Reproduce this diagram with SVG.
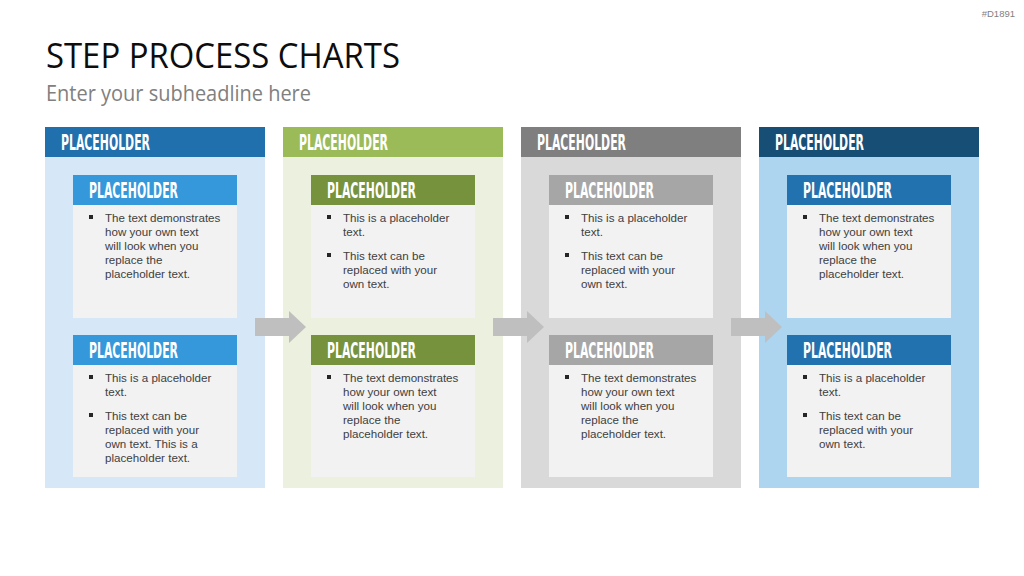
<svg xmlns="http://www.w3.org/2000/svg" width="1024" height="576" viewBox="0 0 1024 576">
<style>
.hd{font-family:"DejaVu Sans Condensed","DejaVu Sans",sans-serif;font-stretch:condensed;font-weight:bold;font-size:21px;fill:#fff}
.tx{font-family:"Liberation Sans",Arial,sans-serif;font-size:11.6px;fill:#404040}
.bl{fill:#262626}
.ib{fill:#F2F2F2}
.ar{fill:#BFBFBF}
</style>
<rect width="1024" height="576" fill="#fff"/>
<text x="1015" y="17" text-anchor="end" font-family="Liberation Sans,Arial,sans-serif" font-size="9.5" fill="#7F7F7F">#D1891</text>
<text x="46" y="68" font-family="Open Sans,Liberation Sans,sans-serif" font-size="34" fill="#0D0D0D" textLength="354" lengthAdjust="spacingAndGlyphs">STEP PROCESS CHARTS</text>
<text x="46" y="101" font-family="Open Sans,Liberation Sans,sans-serif" font-size="21" fill="#808080" textLength="265" lengthAdjust="spacingAndGlyphs">Enter your subheadline here</text>

<g id="col1">
<rect x="45" y="157" width="220" height="331" fill="#D6E8F7"/>
<rect x="45" y="127" width="220" height="30" fill="#1F70AD"/>
<text class="hd" x="61" y="149.5" textLength="89" lengthAdjust="spacingAndGlyphs">PLACEHOLDER</text>
<rect class="ib" x="73" y="205" width="164" height="113"/>
<rect x="73" y="175" width="164" height="30" fill="#3498DB"/>
<text class="hd" x="89" y="197.5" textLength="89" lengthAdjust="spacingAndGlyphs">PLACEHOLDER</text>
<rect class="bl" x="89" y="215" width="4" height="4"/>
<text class="tx" x="105" y="222">The text demonstrates</text>
<text class="tx" x="105" y="236">how your own text</text>
<text class="tx" x="105" y="250">will look when you</text>
<text class="tx" x="105" y="264">replace the</text>
<text class="tx" x="105" y="278">placeholder text.</text>
<rect class="ib" x="73" y="365" width="164" height="112"/>
<rect x="73" y="335" width="164" height="30" fill="#3498DB"/>
<text class="hd" x="89" y="357.5" textLength="89" lengthAdjust="spacingAndGlyphs">PLACEHOLDER</text>
<rect class="bl" x="89" y="375" width="4" height="4"/>
<text class="tx" x="105" y="382">This is a placeholder</text>
<text class="tx" x="105" y="396">text.</text>
<rect class="bl" x="89" y="413" width="4" height="4"/>
<text class="tx" x="105" y="420">This text can be</text>
<text class="tx" x="105" y="434">replaced with your</text>
<text class="tx" x="105" y="448">own text. This is a</text>
<text class="tx" x="105" y="462">placeholder text.</text>
</g>

<g id="col2">
<rect x="283" y="157" width="220" height="331" fill="#EBF1DE"/>
<rect x="283" y="127" width="220" height="30" fill="#9BBB59"/>
<text class="hd" x="299" y="149.5" textLength="89" lengthAdjust="spacingAndGlyphs">PLACEHOLDER</text>
<rect class="ib" x="311" y="205" width="164" height="113"/>
<rect x="311" y="175" width="164" height="30" fill="#76923C"/>
<text class="hd" x="327" y="197.5" textLength="89" lengthAdjust="spacingAndGlyphs">PLACEHOLDER</text>
<rect class="bl" x="327" y="215" width="4" height="4"/>
<text class="tx" x="343" y="222">This is a placeholder</text>
<text class="tx" x="343" y="236">text.</text>
<rect class="bl" x="327" y="253" width="4" height="4"/>
<text class="tx" x="343" y="260">This text can be</text>
<text class="tx" x="343" y="274">replaced with your</text>
<text class="tx" x="343" y="288">own text.</text>
<rect class="ib" x="311" y="365" width="164" height="112"/>
<rect x="311" y="335" width="164" height="30" fill="#76923C"/>
<text class="hd" x="327" y="357.5" textLength="89" lengthAdjust="spacingAndGlyphs">PLACEHOLDER</text>
<rect class="bl" x="327" y="375" width="4" height="4"/>
<text class="tx" x="343" y="382">The text demonstrates</text>
<text class="tx" x="343" y="396">how your own text</text>
<text class="tx" x="343" y="410">will look when you</text>
<text class="tx" x="343" y="424">replace the</text>
<text class="tx" x="343" y="438">placeholder text.</text>
</g>

<g id="col3">
<rect x="521" y="157" width="220" height="331" fill="#D9D9D9"/>
<rect x="521" y="127" width="220" height="30" fill="#7F7F7F"/>
<text class="hd" x="537" y="149.5" textLength="89" lengthAdjust="spacingAndGlyphs">PLACEHOLDER</text>
<rect class="ib" x="549" y="205" width="164" height="113"/>
<rect x="549" y="175" width="164" height="30" fill="#A6A6A6"/>
<text class="hd" x="565" y="197.5" textLength="89" lengthAdjust="spacingAndGlyphs">PLACEHOLDER</text>
<rect class="bl" x="565" y="215" width="4" height="4"/>
<text class="tx" x="581" y="222">This is a placeholder</text>
<text class="tx" x="581" y="236">text.</text>
<rect class="bl" x="565" y="253" width="4" height="4"/>
<text class="tx" x="581" y="260">This text can be</text>
<text class="tx" x="581" y="274">replaced with your</text>
<text class="tx" x="581" y="288">own text.</text>
<rect class="ib" x="549" y="365" width="164" height="112"/>
<rect x="549" y="335" width="164" height="30" fill="#A6A6A6"/>
<text class="hd" x="565" y="357.5" textLength="89" lengthAdjust="spacingAndGlyphs">PLACEHOLDER</text>
<rect class="bl" x="565" y="375" width="4" height="4"/>
<text class="tx" x="581" y="382">The text demonstrates</text>
<text class="tx" x="581" y="396">how your own text</text>
<text class="tx" x="581" y="410">will look when you</text>
<text class="tx" x="581" y="424">replace the</text>
<text class="tx" x="581" y="438">placeholder text.</text>
</g>

<g id="col4">
<rect x="759" y="157" width="220" height="331" fill="#AED5F0"/>
<rect x="759" y="127" width="220" height="30" fill="#174E76"/>
<text class="hd" x="775" y="149.5" textLength="89" lengthAdjust="spacingAndGlyphs">PLACEHOLDER</text>
<rect class="ib" x="787" y="205" width="164" height="113"/>
<rect x="787" y="175" width="164" height="30" fill="#2272B0"/>
<text class="hd" x="803" y="197.5" textLength="89" lengthAdjust="spacingAndGlyphs">PLACEHOLDER</text>
<rect class="bl" x="803" y="215" width="4" height="4"/>
<text class="tx" x="819" y="222">The text demonstrates</text>
<text class="tx" x="819" y="236">how your own text</text>
<text class="tx" x="819" y="250">will look when you</text>
<text class="tx" x="819" y="264">replace the</text>
<text class="tx" x="819" y="278">placeholder text.</text>
<rect class="ib" x="787" y="365" width="164" height="112"/>
<rect x="787" y="335" width="164" height="30" fill="#2272B0"/>
<text class="hd" x="803" y="357.5" textLength="89" lengthAdjust="spacingAndGlyphs">PLACEHOLDER</text>
<rect class="bl" x="803" y="375" width="4" height="4"/>
<text class="tx" x="819" y="382">This is a placeholder</text>
<text class="tx" x="819" y="396">text.</text>
<rect class="bl" x="803" y="413" width="4" height="4"/>
<text class="tx" x="819" y="420">This text can be</text>
<text class="tx" x="819" y="434">replaced with your</text>
<text class="tx" x="819" y="448">own text.</text>
</g>

<g id="connectors">
<polygon class="ar" points="255,318 289,318 289,311 306,327 289,343 289,336 255,336"/>
<polygon class="ar" points="493,318 527,318 527,311 544,327 527,343 527,336 493,336"/>
<polygon class="ar" points="731,318 765,318 765,311 782,327 765,343 765,336 731,336"/>
</g>
</svg>
